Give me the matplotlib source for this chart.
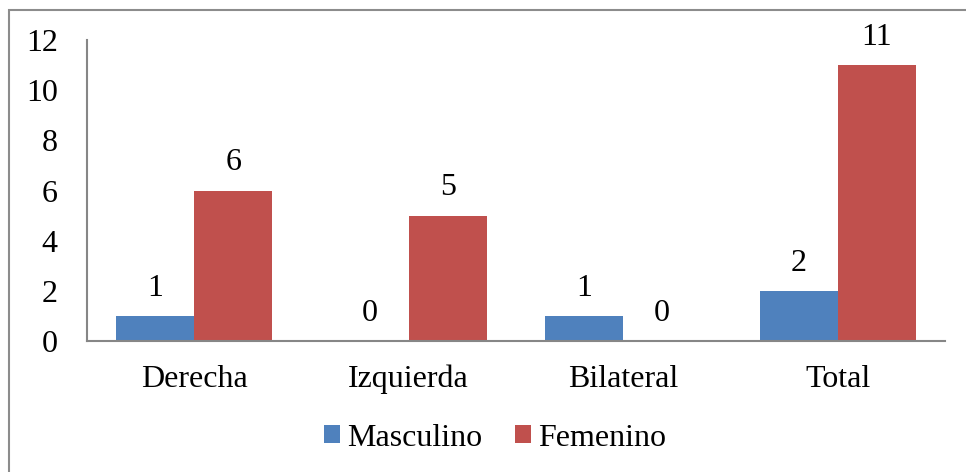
import matplotlib.pyplot as plt
import numpy as np
from matplotlib.patches import Rectangle

categories = ['Derecha', 'Izquierda', 'Bilateral', 'Total']
masculino = [1, 0, 1, 2]
femenino = [6, 5, 0, 11]

plt.rcParams['font.family'] = ['Liberation Serif', 'DejaVu Serif']

fig = plt.figure(figsize=(9.66, 4.72), dpi=100)
ax = fig.add_axes([0.0901, 0.2775, 0.888, 0.6377])

# outer chart frame
fig.patches.append(Rectangle((9 / 966, -0.1), 1.2, 1.1 - 10 / 472,
                             transform=fig.transFigure, fill=False,
                             edgecolor='#8c8c8c', linewidth=1.5))

x = np.arange(len(categories))
w = 0.364
b1 = ax.bar(x - w / 2, masculino, w, color='#4F81BD', label='Masculino')
b2 = ax.bar(x + w / 2, femenino, w, color='#C0504D', label='Femenino')

for bars, vals in ((b1, masculino), (b2, femenino)):
    for rect, v in zip(bars, vals):
        ax.annotate(str(v), (rect.get_x() + rect.get_width() / 2, v),
                    xytext=(0, 14.5), textcoords='offset points',
                    ha='center', va='baseline', fontsize=23)

ax.set_xlim(-0.5, 3.5)
ax.set_ylim(0, 12)
ax.set_yticks(range(0, 13, 2))
ax.set_xticks(x)
ax.set_xticklabels(categories)
ax.tick_params(axis='y', length=0, pad=21, labelsize=23)
ax.tick_params(axis='x', length=0, pad=17, labelsize=23)
for s in ('top', 'right'):
    ax.spines[s].set_visible(False)
for s in ('left', 'bottom'):
    ax.spines[s].set_color('#868686')
    ax.spines[s].set_linewidth(1.5)

fig.legend(loc='center', bbox_to_anchor=(495 / 966, 1 - 438 / 472),
           ncol=2, frameon=False, fontsize=23, handlelength=0.5,
           handleheight=0.5, handletextpad=0.22, columnspacing=1.05)

fig.savefig('out.png', dpi=100)
